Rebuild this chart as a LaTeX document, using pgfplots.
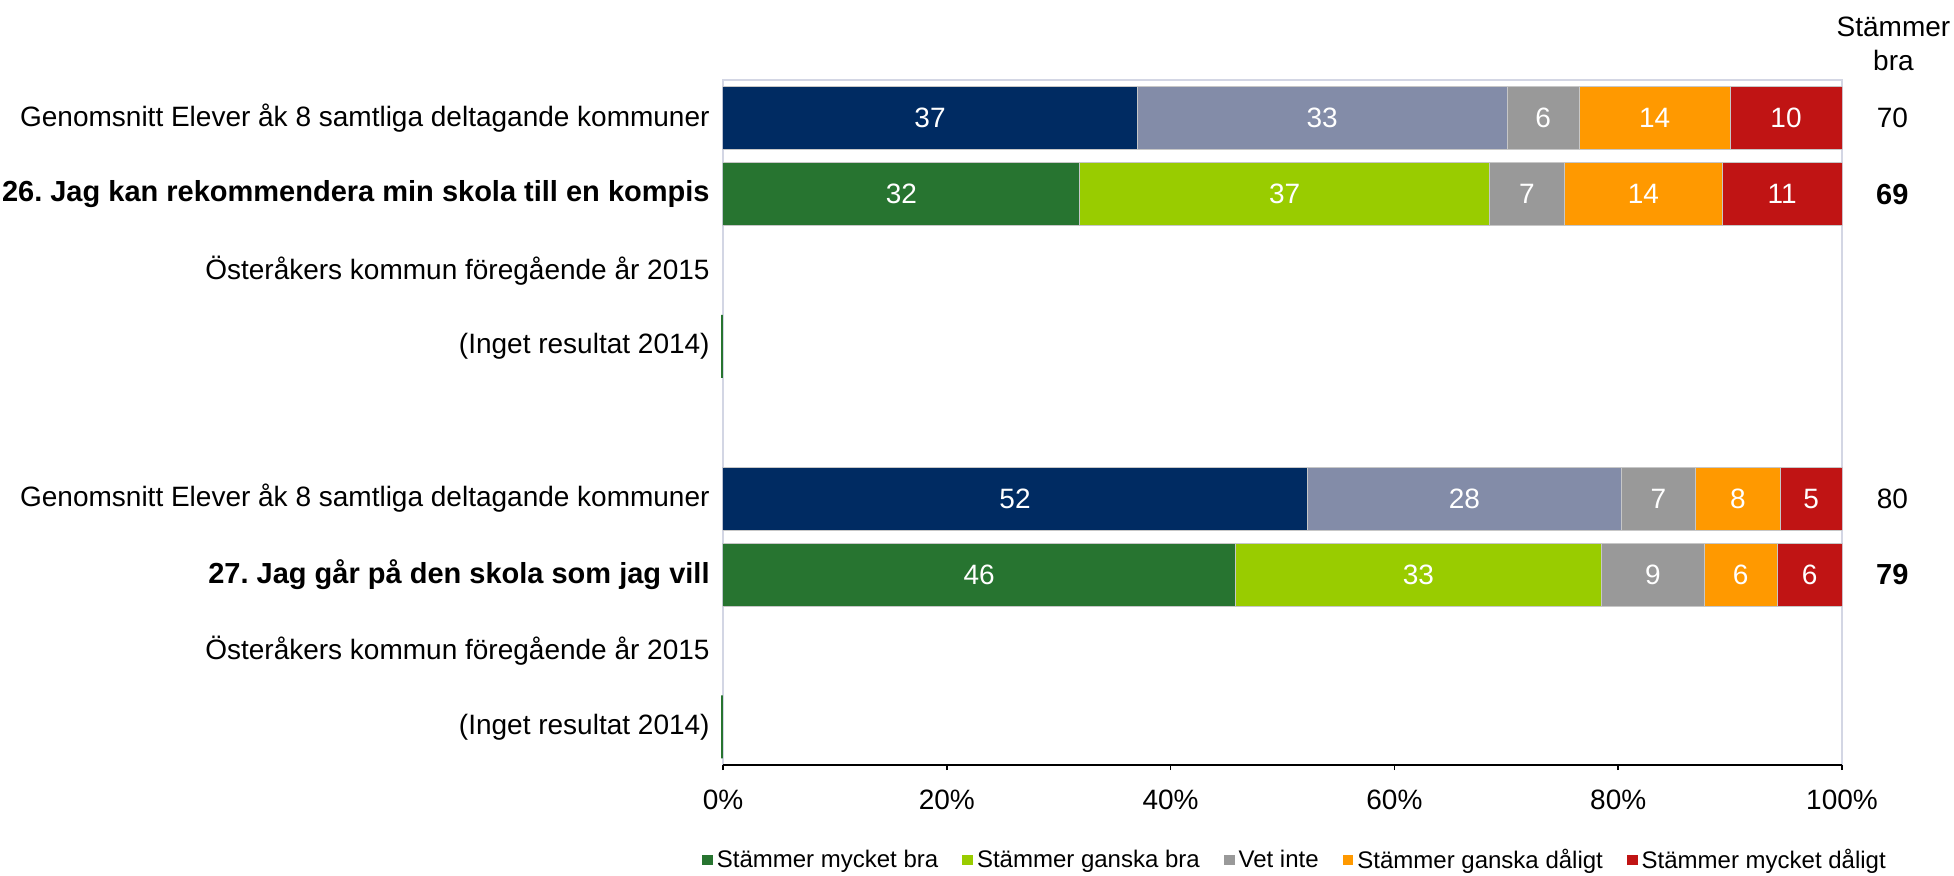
\documentclass[border=0pt]{standalone}
\usepackage{fontspec}
\setmainfont{Liberation Sans}
\usepackage{pgfplots}
\pgfplotsset{compat=1.18}
\frenchspacing
\definecolor{cNavy}{HTML}{002B62}
\definecolor{cBlueGray}{HTML}{838CA8}
\definecolor{cDkGreen}{HTML}{277430}
\definecolor{cLtGreen}{HTML}{99CC00}
\definecolor{cGray}{HTML}{999999}
\definecolor{cOrange}{HTML}{FF9900}
\definecolor{cRed}{HTML}{C01414}
\definecolor{cFrame}{HTML}{D3D6E4}
\newcommand{\bl}[1]{{\fontsize{14.5pt}{16pt}\selectfont\bfseries #1}}
\pgfplotsset{
  base/.style={
    width=559.5pt, height=342.5pt, scale only axis,
    at={(0,0)}, anchor=south west,
    xmin=0, xmax=100, ymin=-0.5, ymax=8.5,
    font=\fontsize{14pt}{16pt}\selectfont,
  },
  seg/.style={fill=#1, draw=black!22, line width=0.5pt},
}
\begin{document}
\begin{tikzpicture}
\useasboundingbox (-361.5pt,-55pt) rectangle (615.5pt,382.5pt);
% average rows
\begin{axis}[base, xbar stacked, bar width=31.5pt,
  axis line style={draw=cFrame, line width=0.8pt},
  xtick=\empty,
  ytick={0,1,2,3,5,6,7,8},
  yticklabels={(Inget resultat 2014), Österåkers kommun föregående år 2015, \bl{27.\ Jag går på den skola som jag vill}, Genomsnitt Elever åk 8 samtliga deltagande kommuner, (Inget resultat 2014), Österåkers kommun föregående år 2015, \bl{26.\ Jag kan rekommendera min skola till en kompis}, Genomsnitt Elever åk 8 samtliga deltagande kommuner},
  major tick length=0pt, ytick style={draw=none},
  yticklabel style={anchor=east, inner sep=0pt, xshift=-6.5pt},
]
\addplot[seg=cNavy] coordinates {(37,8) (52.2,3)};
\addplot[seg=cBlueGray] coordinates {(33.1,8) (28.1,3)};
\addplot[seg=cGray] coordinates {(6.4,8) (6.6,3)};
\addplot[seg=cOrange] coordinates {(13.5,8) (7.6,3)};
\addplot[seg=cRed] coordinates {(10,8) (5.5,3)};
\end{axis}
% question rows
\begin{axis}[base, xbar stacked, bar width=31.5pt, hide axis,
  legend columns=5,
  legend style={at={(0.512,-0.1387)}, anchor=center, draw=none, fill=none,
    font=\fontsize{12pt}{14pt}\selectfont,
    /tikz/every even column/.append style={column sep=10pt}},
  legend image code/.code={\fill[#1, draw=none] (0pt,-2.7pt) rectangle (5.4pt,2.7pt);},
]
\addplot[seg=cDkGreen] coordinates {(31.9,7) (45.8,2)};
\addplot[seg=cLtGreen] coordinates {(36.6,7) (32.7,2)};
\addplot[seg=cGray] coordinates {(6.7,7) (9.2,2)};
\addplot[seg=cOrange] coordinates {(14.1,7) (6.5,2)};
\addplot[seg=cRed] coordinates {(10.7,7) (5.8,2)};
\legend{Stämmer mycket bra, Stämmer ganska bra, Vet inte, Stämmer ganska dåligt, Stämmer mycket dåligt}
\end{axis}
% labels, x axis
\begin{axis}[base, clip=false,
  axis x line*=bottom, axis y line=none,
  x axis line style={black, line width=1.1pt},
  xtick={0,20,40,60,80,100},
  xticklabels={0\%,20\%,40\%,60\%,80\%,100\%},
  ytick=\empty,
  tick align=outside, major tick length=2.5pt,
  x tick style={black, line width=0.8pt},
  xticklabel style={anchor=north, inner sep=0pt, yshift=-10pt},
]
\addplot[xbar, bar width=31.5pt, draw=cDkGreen, fill=none, line width=1.2pt, xshift=-0.6pt] coordinates {(0,5) (0,0)};
\addplot[draw=none, mark=none, nodes near coords, point meta=explicit symbolic,
  every node near coord/.append style={anchor=center, text=white, inner sep=0pt}] table[meta=l] {
x y l
18.5 8 37
53.55 8 33
73.3 8 6
83.25 8 14
95 8 10
15.95 7 32
50.2 7 37
71.85 7 7
82.25 7 14
94.65 7 11
26.1 3 52
66.25 3 28
83.6 3 7
90.7 3 8
97.25 3 5
22.9 2 46
62.15 2 33
83.1 2 9
90.95 2 6
97.1 2 6
};
\addplot[draw=none, mark=none, nodes near coords, point meta=explicit symbolic,
  every node near coord/.append style={anchor=center, text=black, inner sep=0pt}] table[meta=l] {
x y l
104.5 8 70
104.5 3 80
};
\addplot[draw=none, mark=none, nodes near coords, point meta=explicit symbolic,
  every node near coord/.append style={anchor=center, text=black, inner sep=0pt, font=\fontsize{14.5pt}{16pt}\selectfont\bfseries}] table[meta=l] {
x y l
104.5 7 69
104.5 2 79
};
\node[align=center, font=\fontsize{14pt}{16.8pt}\selectfont, inner sep=0pt] at ([yshift=18pt]axis cs:104.6,8.5) {Stämmer\\bra};
\end{axis}
\end{tikzpicture}
\end{document}
